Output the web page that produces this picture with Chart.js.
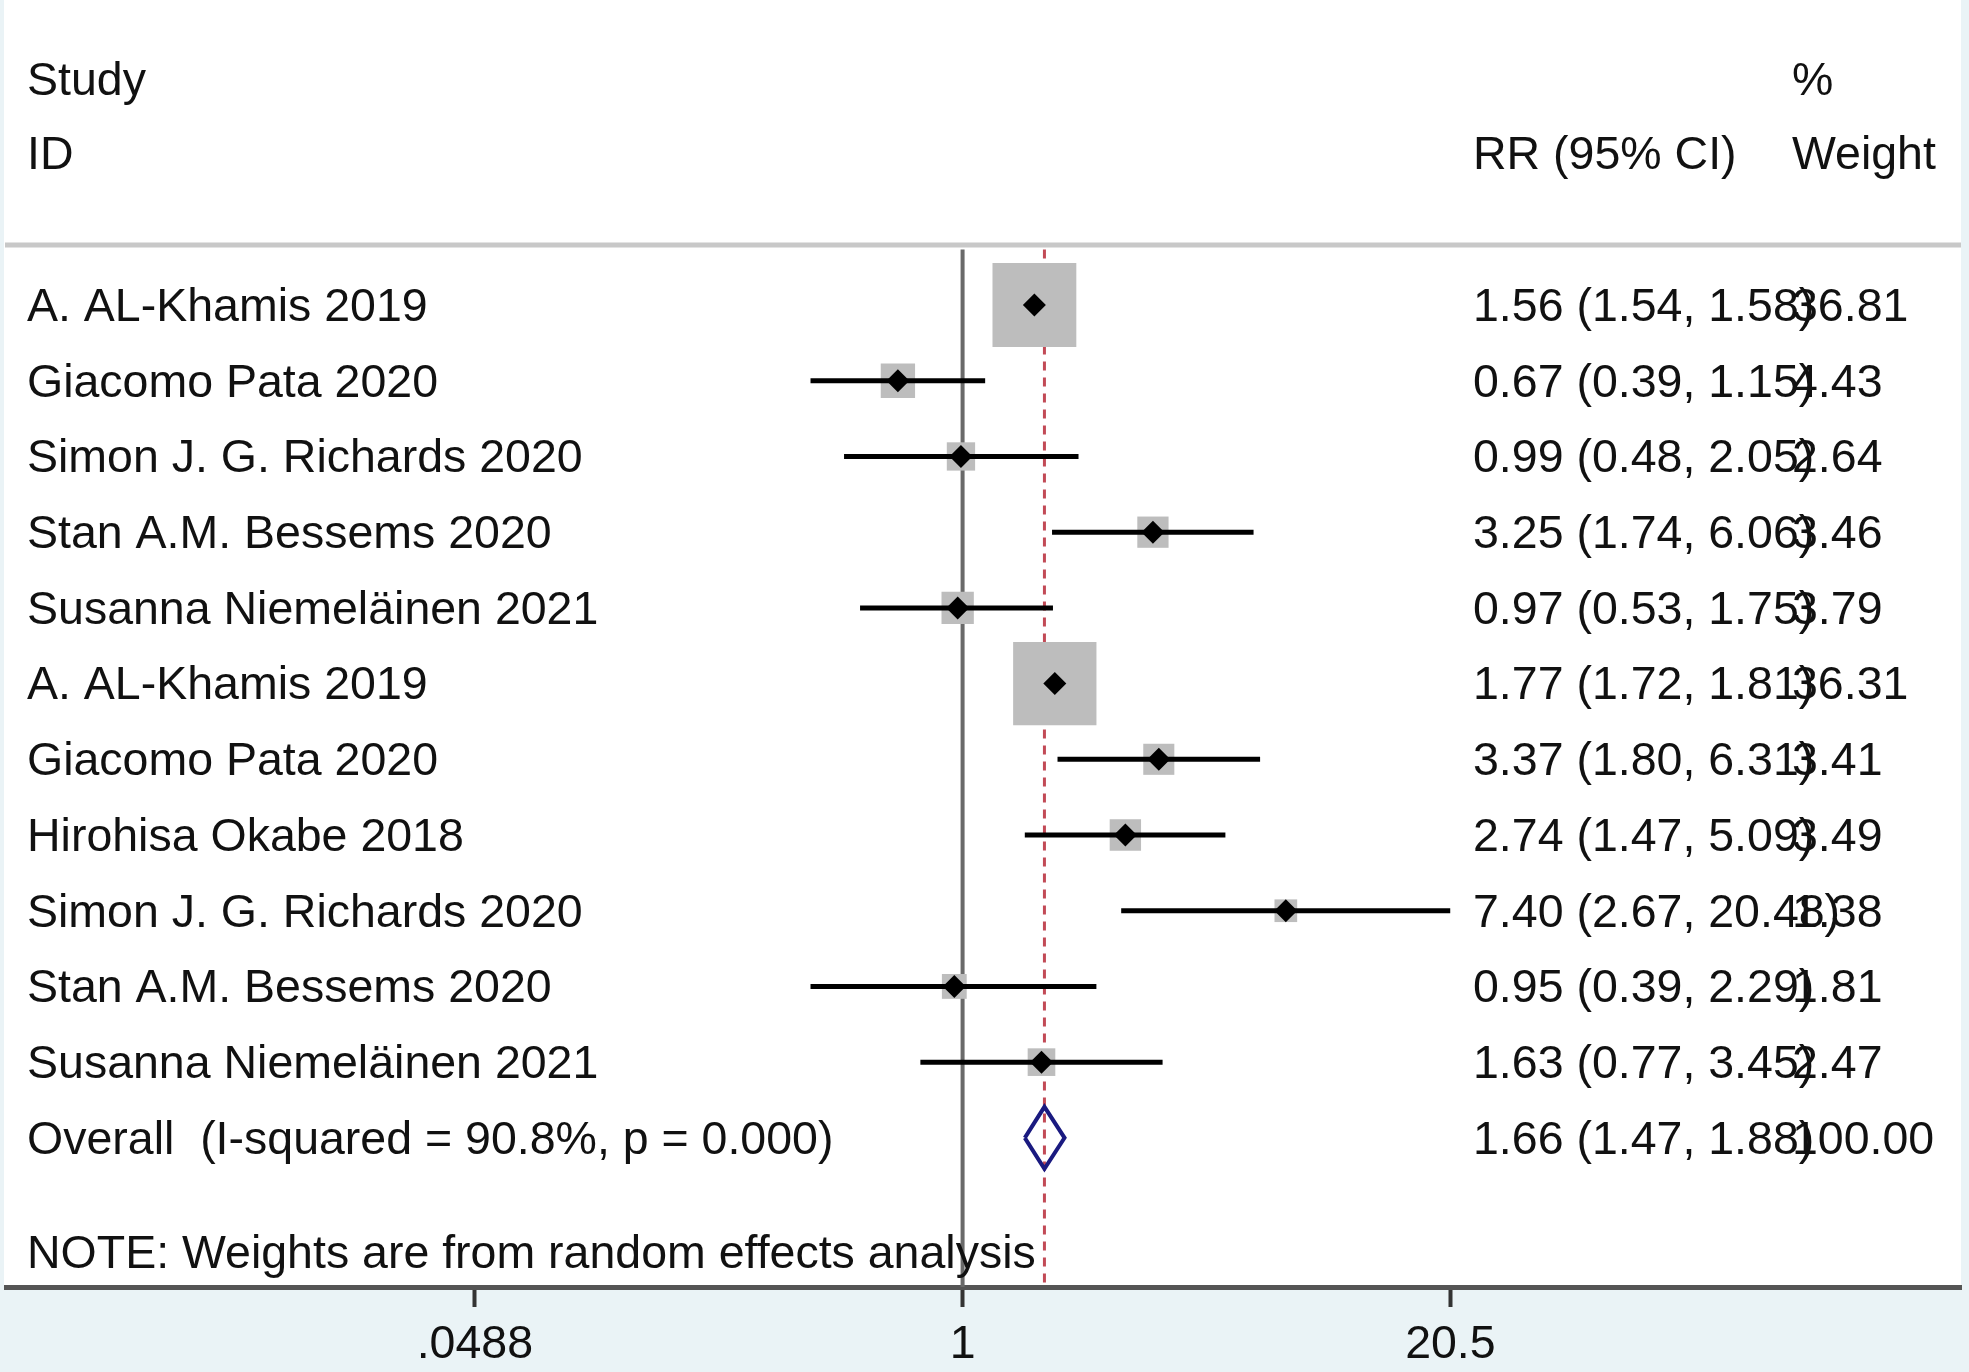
<!DOCTYPE html>
<html>
<head>
<meta charset="utf-8">
<script src="https://cdn.jsdelivr.net/npm/chart.js@4.4.0/dist/chart.umd.min.js"></script>
<style>
html,body{margin:0;padding:0;background:#eaf3f6;}
canvas{display:block;}
</style>
</head>
<body>
<canvas id="c" width="1969" height="1372"></canvas>
<script>
// ---- data ----
const studies = [
  'A. AL-Khamis 2019',
  'Giacomo Pata 2020',
  'Simon J. G. Richards 2020',
  'Stan A.M. Bessems 2020',
  'Susanna Niemeläinen 2021',
  'A. AL-Khamis 2019',
  'Giacomo Pata 2020',
  'Hirohisa Okabe 2018',
  'Simon J. G. Richards 2020',
  'Stan A.M. Bessems 2020',
  'Susanna Niemeläinen 2021'
];
const rr      = [1.56, 0.67, 0.99, 3.25, 0.97, 1.77, 3.37, 2.74, 7.40, 0.95, 1.63];
const ciLow   = [1.54, 0.39, 0.48, 1.74, 0.53, 1.72, 1.80, 1.47, 2.67, 0.39, 0.77];
const ciHigh  = [1.58, 1.15, 2.05, 6.06, 1.75, 1.81, 6.31, 5.09, 20.48, 2.29, 3.45];
const weights = [36.81, 4.43, 2.64, 3.46, 3.79, 36.31, 3.41, 3.49, 1.38, 1.81, 2.47];
const overallLabel = 'Overall  (I-squared = 90.8%, p = 0.000)';
const overallRR = [1.66];
const overallCI = [1.47, 1.88];
const overallWeight = [100.00];
const nullValue = [1];
const tickValues = [0.0488, 1, 20.5];
const tickLabels = ['.0488', '1', '20.5'];
const headerLeft = ['Study', 'ID'];
const headerMid = ['', 'RR (95% CI)'];
const headerRight = ['%', 'Weight'];
const noteText = 'NOTE: Weights are from random effects analysis';

// ---- layout constants (styles, not data) ----
const Y_MIN = -0.793, Y_MAX = 12.97;
const X_MIN = 0.002677, X_MAX = 484;
const overallRow = studies.length;
const FONT = '46.5px "Liberation Sans", Arial, sans-serif';
const COL1 = 27, COL2 = 1473, COL3 = 1792;
const TEXT_DY = 3;
const boxSide = w => 8 + 12.5 * Math.sqrt(w);

const datasets = [];
// markers (top)
datasets.push({
  label: 'markers', order: 0,
  data: studies.map((s, i) => ({x: rr[i], y: i})),
  pointStyle: 'rectRot', pointRadius: 11.5, pointHoverRadius: 11.5,
  backgroundColor: '#000', borderWidth: 0
});
// CI lines
studies.forEach((s, i) => {
  datasets.push({
    label: 'ci' + i, order: 1, showLine: true,
    data: [{x: ciLow[i], y: i}, {x: ciHigh[i], y: i}],
    borderColor: '#000', borderWidth: 5, pointRadius: 0, pointHoverRadius: 0
  });
});
// overall diamond
datasets.push({
  label: 'overall', order: 1, showLine: true,
  data: [
    {x: overallCI[0], y: overallRow},
    {x: overallRR[0], y: overallRow - 0.41},
    {x: overallCI[1], y: overallRow},
    {x: overallRR[0], y: overallRow + 0.41},
    {x: overallCI[0], y: overallRow}
  ],
  borderColor: '#1a1a80', borderWidth: 4, borderJoinStyle: 'miter', fill: false,
  pointRadius: 0, pointHoverRadius: 0, tension: 0
});
// weight boxes
datasets.push({
  label: 'boxes', order: 2,
  data: studies.map((s, i) => ({x: rr[i], y: i})),
  pointStyle: 'rect',
  pointRadius: ctx => boxSide(weights[ctx.dataIndex]) / Math.SQRT2,
  pointHoverRadius: ctx => boxSide(weights[ctx.dataIndex]) / Math.SQRT2,
  backgroundColor: '#bdbdbd', borderWidth: 0
});
// null line
datasets.push({
  label: 'null', order: 3, showLine: true,
  data: [{x: nullValue[0], y: Y_MIN + 0.06}, {x: nullValue[0], y: Y_MAX}],
  borderColor: '#6a6a6a', borderWidth: 4, pointRadius: 0, pointHoverRadius: 0
});
// overall dashed line
datasets.push({
  label: 'overallLine', order: 3, showLine: true,
  data: [{x: overallRR[0], y: Y_MIN + 0.06}, {x: overallRR[0], y: Y_MAX}],
  borderColor: '#c24a56', borderWidth: 3, borderDash: [9, 7],
  pointRadius: 0, pointHoverRadius: 0
});

const fmt = v => v.toFixed(2);

const decor = {
  id: 'decor',
  beforeDraw(chart) {
    const ctx = chart.ctx, a = chart.chartArea;
    ctx.save();
    ctx.fillStyle = '#eaf3f6';
    ctx.fillRect(0, 0, chart.width, chart.height);
    ctx.fillStyle = '#ffffff';
    ctx.fillRect(4, 0, a.right - 4, a.bottom);
    ctx.strokeStyle = '#c8c8c8';
    ctx.lineWidth = 5;
    ctx.beginPath();
    ctx.moveTo(5, a.top);
    ctx.lineTo(a.right, a.top);
    ctx.stroke();
    ctx.restore();
  },
  afterDatasetsDraw(chart) {
    const ctx = chart.ctx, ys = chart.scales.y;
    ctx.save();
    ctx.font = FONT;
    ctx.fillStyle = '#111';
    ctx.textBaseline = 'middle';
    ctx.textAlign = 'left';
    const hy = [-2.985, -2.008];
    for (let k = 0; k < 2; k++) {
      const py = ys.getPixelForValue(hy[k]) + TEXT_DY;
      ctx.fillText(headerLeft[k], COL1, py);
      if (headerMid[k]) ctx.fillText(headerMid[k], COL2, py);
      ctx.fillText(headerRight[k], COL3, py);
    }
    studies.forEach((s, i) => {
      const py = ys.getPixelForValue(i) + TEXT_DY;
      ctx.fillText(s, COL1, py);
      ctx.fillText(fmt(rr[i]) + ' (' + fmt(ciLow[i]) + ', ' + fmt(ciHigh[i]) + ')', COL2, py);
      ctx.fillText(fmt(weights[i]), COL3, py);
    });
    const po = ys.getPixelForValue(overallRow) + TEXT_DY;
    ctx.fillText(overallLabel, COL1, po);
    ctx.fillText(fmt(overallRR[0]) + ' (' + fmt(overallCI[0]) + ', ' + fmt(overallCI[1]) + ')', COL2, po);
    ctx.fillText(fmt(overallWeight[0]), COL3, po);
    ctx.fillText(noteText, COL1, ys.getPixelForValue(12.51) + TEXT_DY);
    ctx.restore();
  }
};

new Chart(document.getElementById('c'), {
  type: 'scatter',
  data: {datasets},
  options: {
    responsive: false,
    devicePixelRatio: 1,
    animation: false,
    events: [],
    layout: {autoPadding: false, padding: {top: 245, left: 6, right: 8, bottom: 0}},
    plugins: {legend: {display: false}, tooltip: {enabled: false}},
    scales: {
      x: {
        type: 'logarithmic',
        min: X_MIN, max: X_MAX,
        afterBuildTicks: scale => { scale.ticks = tickValues.map(v => ({value: v})); },
        afterFit: scale => {
          scale.height = 85;
          scale.paddingLeft = 0; scale.paddingRight = 0;
          scale.paddingTop = 0; scale.paddingBottom = 0;
        },
        border: {display: true, color: '#555555', width: 5},
        grid: {display: true, drawOnChartArea: false, drawTicks: true, tickLength: 20, tickWidth: 4, tickColor: '#333333'},
        ticks: {
          autoSkip: false, maxRotation: 0, padding: 10,
          color: '#111',
          font: {family: '"Liberation Sans", Arial, sans-serif', size: 46.5},
          callback: (v, i) => tickLabels[i]
        }
      },
      y: {
        type: 'linear', min: Y_MIN, max: Y_MAX, reverse: true, display: false
      }
    }
  },
  plugins: [decor]
});
</script>
</body>
</html>
